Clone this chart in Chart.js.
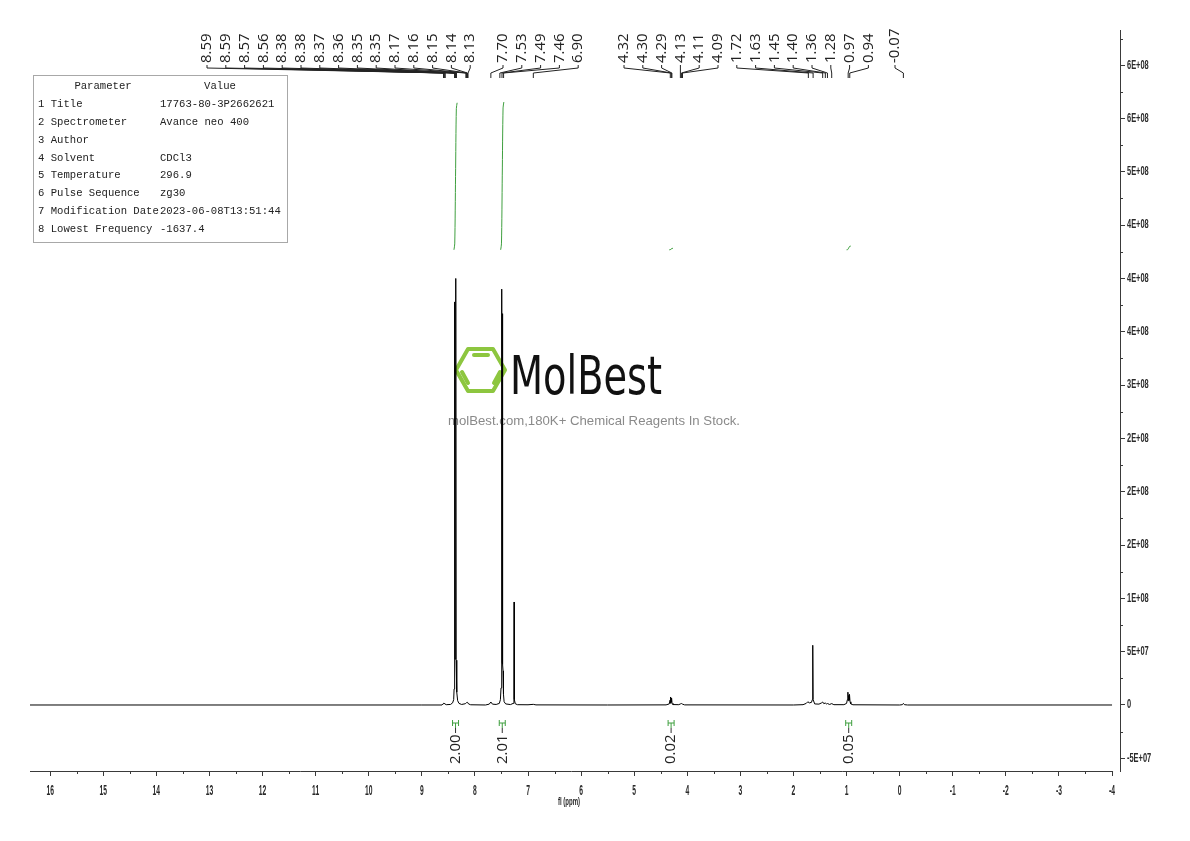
<!DOCTYPE html>
<html><head><meta charset="utf-8">
<script src="https://cdn.jsdelivr.net/npm/chart.js@4.4.1/dist/chart.umd.min.js"></script>
<style>html,body{margin:0;padding:0;background:#fff;overflow:hidden}</style>
</head><body>
<canvas id="c" width="1190" height="841"></canvas>
<script>
// ---------- DATA ----------
const specPpm = [16.38, 9.0, 8.62, 8.60, 8.585, 8.565, 8.54, 8.46, 8.42, 8.40, 8.392, 8.386, 8.381, 8.378, 8.375, 8.366, 8.360, 8.357, 8.354, 8.346, 8.338, 8.325, 8.30, 8.25, 8.18, 8.16, 8.14, 8.12, 8.08,
  7.80, 7.73, 7.70, 7.67, 7.60, 7.54, 7.52, 7.508, 7.500, 7.494, 7.491, 7.488, 7.482, 7.479, 7.476, 7.470, 7.462, 7.45, 7.42, 7.33, 7.28, 7.265, 7.261, 7.257, 7.24, 7.20, 7.00, 6.90, 6.85,
  5.5, 4.40, 4.34, 4.325, 4.318, 4.31, 4.303, 4.296, 4.288, 4.27, 4.16, 4.13, 4.11, 4.09, 4.05,
  2.0, 1.82, 1.76, 1.73, 1.70, 1.66, 1.645, 1.637, 1.630, 1.60, 1.52, 1.47, 1.45, 1.43, 1.40, 1.38, 1.36, 1.32, 1.28, 1.24,
  1.05, 1.00, 0.985, 0.975, 0.968, 0.96, 0.952, 0.945, 0.935, 0.92, 0.88, 0.00, -0.05, -0.07, -0.09, -0.15, -4.0];
const specInt = [0, 0, 0, 1.2e6, 1.8e6, 1.0e6, 0.3e6, 0.5e6, 2.0e6, 5e6, 1.5e7, 3.6e7, 4.0e7, 3.78e8, 4.3e7, 4.6e7, 4.4e7, 4.0e8, 4.2e7, 3.6e7, 1.2e7, 4e6, 1.5e6, 0.5e6, 1.2e6, 2.2e6, 2.5e6, 1.0e6, 0.2e6,
  0, 0.8e6, 2.8e6, 0.8e6, 0.5e6, 1.5e6, 5e6, 1.6e7, 3.6e7, 3.9e7, 3.90e8, 4.0e7, 4.2e7, 3.67e8, 3.8e7, 3.2e7, 1.0e7, 3e6, 1.0e6, 0.4e6, 1.5e6, 5e6, 9.66e7, 5e6, 1.2e6, 0.3e6, 0.2e6, 0.6e6, 0.1e6,
  0, 0.1e6, 1.0e6, 4.5e6, 1.5e6, 7.5e6, 2.5e6, 6.5e6, 1.5e6, 0.4e6, 0.3e6, 1.0e6, 1.4e6, 0.8e6, 0.1e6,
  0, 0.3e6, 1.5e6, 3e6, 2e6, 2.5e6, 5e6, 5.6e7, 5e6, 1e6, 0.8e6, 2.0e6, 2.8e6, 1.3e6, 1.8e6, 1.0e6, 1.4e6, 0.5e6, 1.3e6, 0.3e6,
  0.3e6, 1.5e6, 5e6, 1.2e7, 4e6, 9e6, 4.5e6, 1.0e7, 3e6, 1.0e6, 0.2e6, 0, 0.3e6, 1.5e6, 0.3e6, 0, 0];

const peakLabels = [8.59, 8.59, 8.57, 8.56, 8.38, 8.38, 8.37, 8.36, 8.35, 8.35, 8.17, 8.16, 8.15, 8.14, 8.13,
  7.70, 7.53, 7.49, 7.46, 6.90,
  4.32, 4.30, 4.29, 4.13, 4.11, 4.09, 1.72, 1.63, 1.45, 1.40, 1.36, 1.28, 0.97, 0.94,
  -0.07];

const xTickValues = [16, 15, 14, 13, 12, 11, 10, 9, 8, 7, 6, 5, 4, 3, 2, 1, 0, -1, -2, -3, -4];
const xTickLabels = ['16','15','14','13','12','11','10','9','8','7','6','5','4','3','2','1','0','-1','-2','-3','-4'];
const yTickValues = [-5e7, 0, 5e7, 1e8, 1.5e8, 2e8, 2.5e8, 3e8, 3.5e8, 4e8, 4.5e8, 5e8, 5.5e8, 6e8];
const yTickLabels = ['-5E+07','0','5E+07','1E+08','2E+08','2E+08','2E+08','3E+08','4E+08','4E+08','4E+08','5E+08','6E+08','6E+08'];
const xAxisTitle = 'fl (ppm)';

const intFrom = [8.395, 7.515, 4.34, 1.00];
const intTo = [8.335, 7.455, 4.27, 0.92];
const intValues = [2.00, 2.01, 0.02, 0.05];
const intLabels = ['2.00', '2.01', '0.02', '0.05'];

const paramNames = ['Title','Spectrometer','Author','Solvent','Temperature','Pulse Sequence','Modification Date','Lowest Frequency'];
const paramValues = ['17763-80-3P2662621','Avance neo 400','','CDCl3','296.9','zg30','2023-06-08T13:51:44','-1637.4'];

// ---------- STYLE ----------
const SANS = "'Liberation Sans', Arial, sans-serif";
const GREEN = '#3f9f3f';
const AXIS = '#3a3a3a';
const TICKTXT = '#2a2a2a';

const spectrum = specPpm.map((p, i) => ({ x: p, y: specInt[i] }));
const integralSets = intFrom.map((f, i) => ({
  label: 'int' + i,
  data: [{ x: f, y: 0 }, { x: (f * 3 + intTo[i]) / 4, y: intValues[i] * 0.04 }, { x: (f + intTo[i]) / 2, y: intValues[i] * 0.5 }, { x: (f + intTo[i] * 3) / 4, y: intValues[i] * 0.96 }, { x: intTo[i], y: intValues[i] }],
  borderColor: GREEN, borderWidth: 1, pointRadius: 0, tension: 0.3, yAxisID: 'yi', order: 0
}));

function midpointsWithin(vals, lo, hi) {
  const out = [];
  for (let i = 0; i < vals.length - 1; i++) out.push((vals[i] + vals[i + 1]) / 2);
  const n = vals.length;
  const pre = vals[0] - (vals[1] - vals[0]) / 2, post = vals[n - 1] + (vals[n - 1] - vals[n - 2]) / 2;
  if (pre >= lo && pre <= hi) out.push(pre);
  if (post >= lo && post <= hi) out.push(post);
  return out;
}

function narrowText(ctx, txt, x, y, font, sx, align) {
  ctx.save();
  ctx.font = font;
  ctx.textAlign = align; ctx.textBaseline = 'middle';
  ctx.translate(x, y);
  ctx.scale(sx, 1);
  ctx.fillText(txt, 0, 0);
  ctx.restore();
}

const decor = {
  id: 'decor',
  beforeDatasetsDraw(chart) {
    const ctx = chart.ctx;
    ctx.save();
    ctx.strokeStyle = '#8dc63f'; ctx.lineWidth = 4; ctx.lineJoin = 'round'; ctx.lineCap = 'round';
    ctx.beginPath();
    ctx.moveTo(456, 370); ctx.lineTo(468, 349); ctx.lineTo(493, 349); ctx.lineTo(505, 370); ctx.lineTo(493, 391); ctx.lineTo(468, 391); ctx.closePath();
    ctx.stroke();
    ctx.beginPath();
    ctx.moveTo(474, 355); ctx.lineTo(488, 355);
    ctx.moveTo(462, 372); ctx.lineTo(468, 383);
    ctx.moveTo(500, 372); ctx.lineTo(494, 383);
    ctx.stroke();
    ctx.fillStyle = '#111';
    ctx.font = "54px 'DejaVu Sans', sans-serif";
    ctx.textBaseline = 'alphabetic'; ctx.textAlign = 'left';
    const w = ctx.measureText('MolBest').width;
    ctx.translate(510, 394);
    ctx.scale(152 / w, 1);
    ctx.fillText('MolBest', 0, 0);
    ctx.restore();
    ctx.save();
    ctx.fillStyle = '#8a8a8a';
    ctx.font = "13px " + SANS;
    ctx.textBaseline = 'middle'; ctx.textAlign = 'left';
    const t = 'molBest.com,180K+ Chemical Reagents In Stock.';
    const tw = ctx.measureText(t).width;
    ctx.translate(448, 421);
    ctx.scale(292 / tw, 1);
    ctx.fillText(t, 0, 0);
    ctx.restore();
  },
  afterDraw(chart) {
    const ctx = chart.ctx;
    const xs = chart.scales.x, ys = chart.scales.y;
    const area = chart.chartArea;
    ctx.save();
    ctx.strokeStyle = AXIS; ctx.lineWidth = 1;
    ctx.beginPath();
    ctx.moveTo(area.left, area.bottom + 0.5);
    ctx.lineTo(xs.getPixelForValue(xTickValues[xTickValues.length - 1]) + 1, area.bottom + 0.5);
    ctx.stroke();
    ctx.beginPath();
    midpointsWithin(xTickValues, xs.min, xs.max).forEach(v => {
      const px = Math.round(xs.getPixelForValue(v)) + 0.5;
      ctx.moveTo(px, area.bottom); ctx.lineTo(px, area.bottom + 3);
    });
    midpointsWithin(yTickValues, ys.min, ys.max).forEach(v => {
      const py = Math.round(ys.getPixelForValue(v)) + 0.5;
      ctx.moveTo(area.right, py); ctx.lineTo(area.right + 3, py);
    });
    ctx.stroke();
    ctx.fillStyle = TICKTXT;
    xTickValues.forEach((v, i) => narrowText(ctx, xTickLabels[i], xs.getPixelForValue(v), 791, 'bold 14px ' + SANS, 0.48, 'center'));
    yTickValues.forEach((v, i) => narrowText(ctx, yTickLabels[i], area.right + 7, ys.getPixelForValue(v), 'bold 12px ' + SANS, 0.62, 'left'));
    narrowText(ctx, xAxisTitle, (area.left + area.right) / 2 - 6, 802, 'bold 11px ' + SANS, 0.55, 'center');

    // peak labels
    const PITCH = 18.8;
    const GROUPS = [{ n: 15, start: 207 }, { n: 5, start: 503 }, { n: 14, start: 624 }, { n: 1, start: 895 }];
    let k = 0;
    ctx.font = "15px 'Open Sans','Noto Sans',sans-serif";
    ctx.fillStyle = '#222'; ctx.strokeStyle = '#222'; ctx.lineWidth = 1;
    GROUPS.forEach(g => {
      for (let j = 0; j < g.n; j++, k++) {
        const lx = g.start + j * PITCH;
        const px = xs.getPixelForValue(peakLabels[k]);
        ctx.save();
        ctx.translate(lx, 63);
        ctx.rotate(-Math.PI / 2);
        ctx.textAlign = 'left'; ctx.textBaseline = 'middle';
        ctx.fillText(peakLabels[k].toFixed(2), 0, 0);
        ctx.restore();
        ctx.beginPath();
        ctx.moveTo(lx, 65); ctx.lineTo(lx, 68); ctx.lineTo(px, 73); ctx.lineTo(px, 78);
        ctx.stroke();
      }
    });

    // integral annotations
    intLabels.forEach((lab, i) => {
      const cx = xs.getPixelForValue((intFrom[i] + intTo[i]) / 2);
      ctx.strokeStyle = GREEN; ctx.lineWidth = 1;
      ctx.beginPath();
      ctx.moveTo(cx - 3, 720); ctx.lineTo(cx - 3, 726);
      ctx.moveTo(cx + 3, 720); ctx.lineTo(cx + 3, 726);
      ctx.moveTo(cx - 3, 723); ctx.lineTo(cx + 3, 723);
      ctx.moveTo(cx, 723); ctx.lineTo(cx, 728);
      ctx.stroke();
      ctx.strokeStyle = '#333';
      ctx.beginPath(); ctx.moveTo(cx, 728); ctx.lineTo(cx, 733); ctx.stroke();
      ctx.save();
      ctx.translate(cx, 764);
      ctx.rotate(-Math.PI / 2);
      ctx.fillStyle = '#222';
      ctx.font = "15px 'Open Sans','Noto Sans',sans-serif";
      ctx.textAlign = 'left'; ctx.textBaseline = 'middle';
      ctx.fillText(lab, 0, 0);
      ctx.restore();
    });

    // parameter table
    ctx.fillStyle = '#fff';
    ctx.fillRect(33, 75, 254, 167);
    ctx.strokeStyle = '#a8a8a8'; ctx.lineWidth = 1;
    ctx.strokeRect(33.5, 75.5, 254, 167);
    ctx.fillStyle = '#222';
    ctx.font = "10.6px 'Liberation Mono','Courier New','DejaVu Sans Mono',monospace";
    ctx.textBaseline = 'middle';
    ctx.textAlign = 'center';
    ctx.fillText('Parameter', 103, 86);
    ctx.fillText('Value', 220, 86);
    ctx.textAlign = 'left';
    paramNames.forEach((n, i) => {
      const y = 104 + i * 17.9;
      ctx.fillText((i + 1) + ' ' + n, 38, y);
      ctx.fillText(paramValues[i], 160, y);
    });
    ctx.restore();
  }
};

new Chart(document.getElementById('c'), {
  type: 'line',
  data: {
    datasets: [
      { label: 'spectrum', data: spectrum, borderColor: '#000', borderWidth: 1, pointRadius: 0, tension: 0, yAxisID: 'y', order: 1 },
      ...integralSets
    ]
  },
  options: {
    responsive: false, animation: false, devicePixelRatio: 1,
    layout: { padding: { left: 30, top: 30, right: 0, bottom: 0 } },
    plugins: { legend: { display: false }, tooltip: { enabled: false }, title: { display: false } },
    scales: {
      x: {
        type: 'linear', reverse: true, min: -4.15, max: 16.38,
        afterBuildTicks: s => { s.ticks = xTickValues.map(v => ({ value: v })); },
        afterFit: s => { s.height = 70; },
        border: { display: false },
        grid: { drawOnChartArea: false, drawTicks: true, tickLength: 5, tickColor: AXIS, tickWidth: 1 },
        ticks: {
          autoSkip: false, maxRotation: 0, padding: 6, color: 'rgba(0,0,0,0)',
          font: { family: SANS, size: 12 },
          callback: (v) => { const i = xTickValues.indexOf(v); return i >= 0 ? xTickLabels[i] : ''; }
        }
      },
      y: {
        type: 'linear', position: 'right', min: -6.19e7, max: 6.33e8,
        afterBuildTicks: s => { s.ticks = yTickValues.map(v => ({ value: v })); },
        afterFit: s => { s.width = 70; },
        border: { display: true, color: AXIS, width: 1 },
        grid: { drawOnChartArea: false, drawTicks: true, tickLength: 5, tickColor: AXIS, tickWidth: 1 },
        ticks: {
          autoSkip: false, padding: 2, color: 'rgba(0,0,0,0)',
          font: { family: SANS, size: 11 },
          callback: (v) => { const i = yTickValues.findIndex(t => Math.abs(t - v) < 1); return i >= 0 ? yTickLabels[i] : ''; }
        }
      },
      yi: { type: 'linear', display: false, min: -7.09, max: 2.99 }
    }
  },
  plugins: [decor]
});
</script>
</body></html>
